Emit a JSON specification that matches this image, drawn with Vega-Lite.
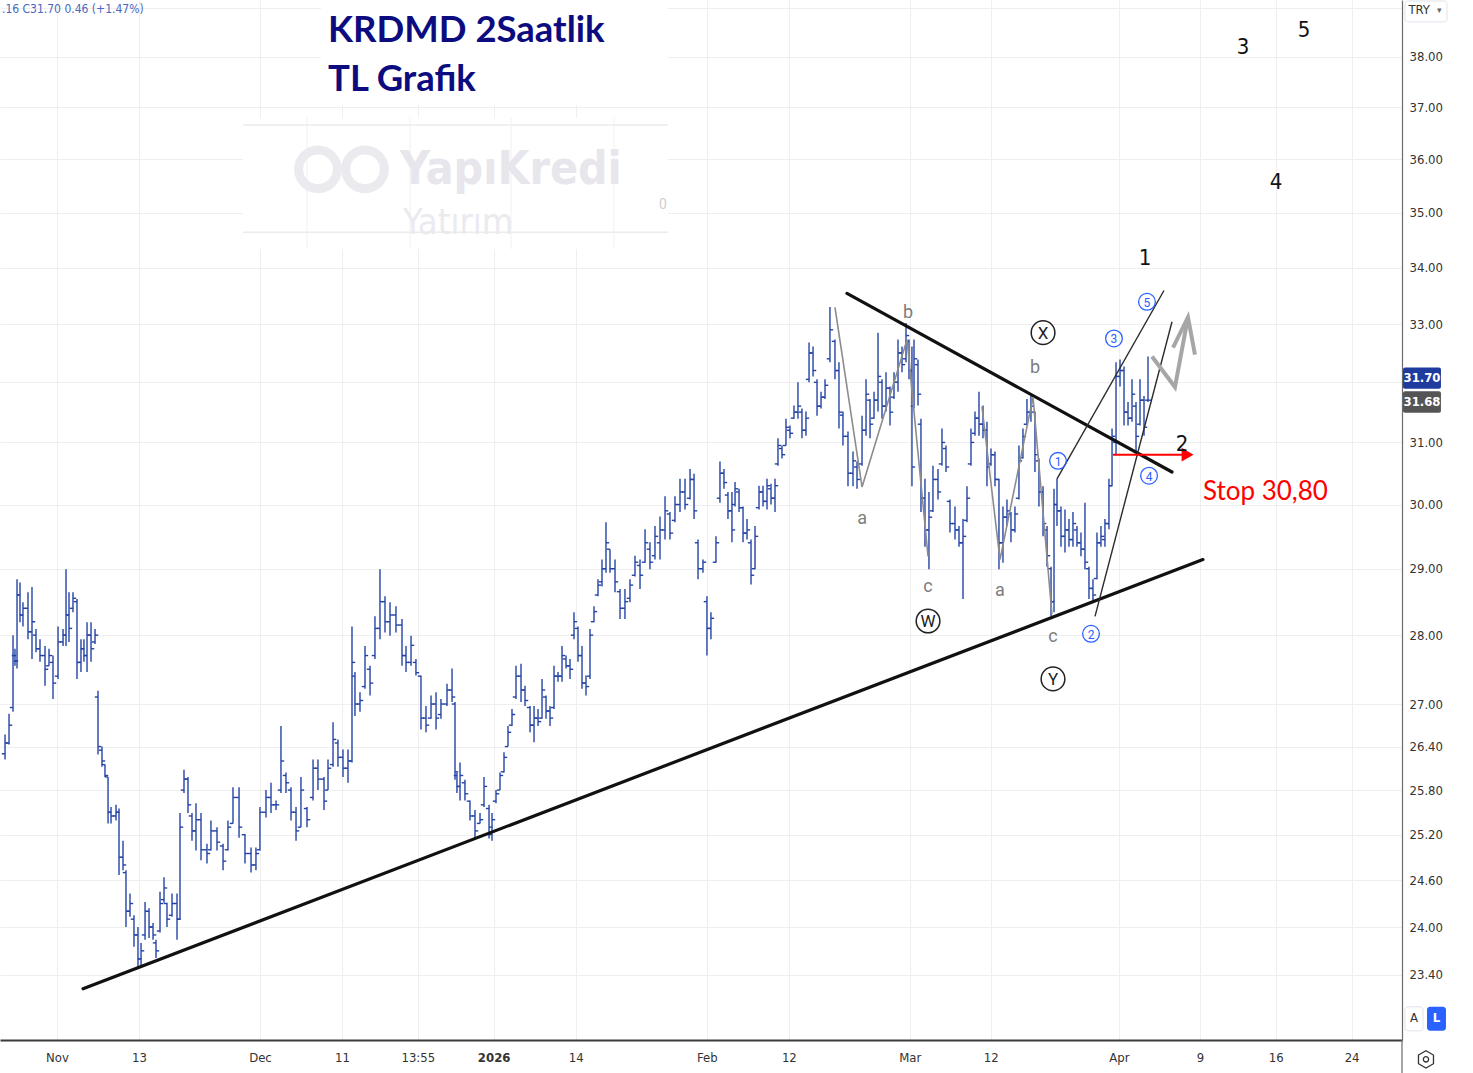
{
  "$schema": "https://vega.github.io/schema/vega-lite/v6.json",
  "width": 1402,
  "height": 1040,
  "autosize": {"type": "none"},
  "padding": {"left": 0, "top": 0, "right": 71, "bottom": 33},
  "background": "white",
  "config": {"view": {"stroke": null}},
  "encoding": {
    "x": {"field": "d", "type": "quantitative", "title": null,
      "scale": {"domain": [-5.561, 131.22], "nice": false, "zero": false},
      "axis": {"orient": "bottom", "title": null, "values": [0, 8, 19.8, 27.8, 35.2, 42.6, 50.6, 63.4, 71.4, 83.2, 91.1, 103.6, 111.5, 118.9, 126.3],
        "labelExpr": "['Nov','13','Dec','11','13:55','2026','14','Feb','12','Mar','12','Apr','9','16','24'][indexof([0, 8, 19.8, 27.8, 35.2, 42.6, 50.6, 63.4, 71.4, 83.2, 91.1, 103.6, 111.5, 118.9, 126.3], datum.value)]",
        "grid": true, "gridColor": "#efefef", "gridWidth": 1, "ticks": false, "domain": true, "domainColor": "#3a3a3a", "domainWidth": 2,
        "labelPadding": 11, "labelFont": "DejaVu Sans Condensed, Roboto", "labelFontSize": 13, "labelColor": "#333333", "labelOverlap": false, "labelFlush": false,
        "labelFontWeight": {"condition": {"test": "datum.value == 42.6", "value": "bold"}, "value": "normal"}}},
    "y": {"field": "p", "type": "quantitative", "title": null,
      "scale": {"type": "log", "domain": [22.61, 39.16], "nice": false, "zero": false},
      "axis": {"orient": "right", "title": null, "values": [23.4, 24, 24.6, 25.2, 25.8, 26.4, 27, 28, 29, 30, 31, 32, 33, 34, 35, 36, 37, 38, 39],
        "labelExpr": "(datum.value == 32 || datum.value == 39) ? '' : format(datum.value, '.2f')",
        "grid": true, "gridColor": "#efefef", "gridWidth": 1, "ticks": false, "domain": true, "domainColor": "#6b6b6b", "domainWidth": 1.2,
        "labelPadding": 7, "labelFont": "DejaVu Sans Condensed, Roboto", "labelFontSize": 13, "labelColor": "#333333", "labelAlign": "left", "labelBaseline": "middle",
        "labelOverlap": false, "labelFlush": false, "labelBound": false}}
  },
  "layer": [
    {
      "data": {"values": [
        {"d": 25.76, "d2": 59.61, "p": 39.16, "p2": 37.05},
        {"d": 18.15, "d2": 59.61, "p": 36.80, "p2": 34.33}
      ]},
      "mark": {"type": "rect", "fill": "white", "stroke": null},
      "encoding": {"x2": {"field": "d2"}, "y2": {"field": "p2"}}
    },
    {
      "data": {"values": [
        {"d": 18.15, "d2": 59.61, "p": 36.66},
        {"d": 18.15, "d2": 59.61, "p": 34.64}
      ]},
      "mark": {"type": "rule", "color": "#ebebeb", "strokeWidth": 1.5},
      "encoding": {"x2": {"field": "d2"}}
    },
    {
      "data": {"values": [
        {"d": 24.39, "p": 36.80, "p2": 34.33},
        {"d": 34.44, "p": 36.80, "p2": 34.33},
        {"d": 44.29, "p": 36.80, "p2": 34.33},
        {"d": 54.34, "p": 36.80, "p2": 34.33}
      ]},
      "mark": {"type": "rule", "color": "#f0f0f0", "strokeWidth": 1},
      "encoding": {"y2": {"field": "p2"}}
    },
    {
      "data": {"values": [
        {"d": 25.46, "p": 35.81},
        {"d": 30.05, "p": 35.81}
      ]},
      "mark": {"type": "point", "shape": "circle", "filled": false, "size": 1500, "stroke": "#ebebef", "strokeWidth": 9, "opacity": 1}
    },
    {
      "data": {"values": [{"d": 33.46, "p": 35.80, "t": "YapıKredi"}]},
      "mark": {"type": "text", "align": "left", "baseline": "middle", "font": "DejaVu Sans Condensed, Roboto", "fontSize": 46, "fontWeight": "bold", "color": "#e6e6ec"},
      "encoding": {"text": {"field": "t"}}
    },
    {
      "data": {"values": [{"d": 33.76, "p": 34.80, "t": "Yatırım"}]},
      "mark": {"type": "text", "align": "left", "baseline": "middle", "font": "DejaVu Sans Condensed, Roboto", "fontSize": 36, "color": "#eaeaef"},
      "encoding": {"text": {"field": "t"}}
    },
    {
      "data": {"name": "ohlc"},
      "mark": {"type": "rule", "color": "#2443a6", "strokeWidth": 1.4},
      "encoding": {
        "y": {"field": "l", "type": "quantitative", "title": null, "scale": {"type": "log", "domain": [22.61, 39.16], "nice": false, "zero": false}},
        "y2": {"field": "h"}
      }
    },
    {
      "data": {"name": "ohlc"},
      "mark": {"type": "tick", "orient": "horizontal", "size": 3.2, "thickness": 1.4, "xOffset": -1.6, "color": "#2443a6", "opacity": 1},
      "encoding": {
        "y": {"field": "o", "type": "quantitative", "title": null, "scale": {"type": "log", "domain": [22.61, 39.16], "nice": false, "zero": false}}
      }
    },
    {
      "data": {"name": "ohlc"},
      "mark": {"type": "tick", "orient": "horizontal", "size": 3.2, "thickness": 1.4, "xOffset": 1.6, "color": "#2443a6", "opacity": 1},
      "encoding": {
        "y": {"field": "c", "type": "quantitative", "title": null, "scale": {"type": "log", "domain": [22.61, 39.16], "nice": false, "zero": false}}
      }
    },
    {
      "data": {"values": [
        {"g": "low", "i": 1, "d": 2.54, "p": 23.23},
        {"g": "low", "i": 2, "d": 111.80, "p": 29.14},
        {"g": "up", "i": 1, "d": 77.07, "p": 33.54},
        {"g": "up", "i": 2, "d": 108.78, "p": 30.52}
      ]},
      "mark": {"type": "line", "color": "#111111", "strokeWidth": 3.2, "strokeCap": "round"},
      "encoding": {"detail": {"field": "g"}, "order": {"field": "i"}}
    },
    {
      "data": {"values": [
        {"g": "W", "i": 1, "d": 75.90, "p": 33.29},
        {"g": "W", "i": 2, "d": 78.54, "p": 30.28},
        {"g": "W", "i": 3, "d": 82.93, "p": 32.73},
        {"g": "W", "i": 4, "d": 84.98, "p": 29.19},
        {"g": "Y", "i": 1, "d": 90.24, "p": 31.59},
        {"g": "Y", "i": 2, "d": 92.00, "p": 29.14},
        {"g": "Y", "i": 3, "d": 95.22, "p": 31.75},
        {"g": "Y", "i": 4, "d": 97.07, "p": 28.31}
      ]},
      "mark": {"type": "line", "color": "#8c8c8c", "strokeWidth": 1.6},
      "encoding": {"detail": {"field": "g"}, "order": {"field": "i"}}
    },
    {
      "data": {"values": [
        {"g": "A", "i": 1, "d": 97.56, "p": 30.41},
        {"g": "A", "i": 2, "d": 108.00, "p": 33.59},
        {"g": "B", "i": 1, "d": 101.27, "p": 28.28},
        {"g": "B", "i": 2, "d": 108.78, "p": 33.04}
      ]},
      "mark": {"type": "line", "color": "#2b2b2b", "strokeWidth": 1.4},
      "encoding": {"detail": {"field": "g"}, "order": {"field": "i"}}
    },
    {
      "data": {"values": [
        {"g": "stem", "i": 1, "d": 106.83, "p": 32.44},
        {"g": "stem", "i": 2, "d": 109.07, "p": 31.92},
        {"g": "stem", "i": 3, "d": 110.34, "p": 33.12},
        {"g": "head", "i": 1, "d": 108.88, "p": 32.59},
        {"g": "head", "i": 2, "d": 110.34, "p": 33.12},
        {"g": "head", "i": 3, "d": 111.02, "p": 32.47}
      ]},
      "mark": {"type": "line", "color": "#a6a6a6", "strokeWidth": 4, "strokeJoin": "miter"},
      "encoding": {"detail": {"field": "g"}, "order": {"field": "i"}}
    },
    {
      "data": {"values": [
        {"i": 1, "d": 103.02, "p": 30.80},
        {"i": 2, "d": 109.85, "p": 30.80}
      ]},
      "mark": {"type": "line", "color": "#ff0000", "strokeWidth": 2},
      "encoding": {"order": {"field": "i"}}
    },
    {
      "data": {"values": [{"d": 110.30, "p": 30.80}]},
      "mark": {"type": "point", "shape": "triangle-right", "filled": true, "size": 190, "color": "#ff0000", "opacity": 1}
    },
    {
      "data": {"values": [
        {"d": 78.54, "p": 29.77, "t": "a"},
        {"d": 83.02, "p": 33.20, "t": "b"},
        {"d": 84.98, "p": 28.72, "t": "c"},
        {"d": 92.00, "p": 28.66, "t": "a"},
        {"d": 95.41, "p": 32.25, "t": "b"},
        {"d": 97.17, "p": 27.97, "t": "c"}
      ]},
      "mark": {"type": "text", "align": "center", "baseline": "middle", "font": "Roboto", "fontSize": 18, "color": "#7d7d7d"},
      "encoding": {"text": {"field": "t"}}
    },
    {
      "data": {"values": [
        {"d": 84.98, "p": 28.21, "t": "W"},
        {"d": 96.20, "p": 32.85, "t": "X"},
        {"d": 97.17, "p": 27.36, "t": "Y"}
      ]},
      "layer": [
        {"mark": {"type": "point", "shape": "circle", "filled": false, "size": 560, "stroke": "#222222", "strokeWidth": 1.5, "opacity": 1}},
        {
          "mark": {"type": "text", "align": "center", "baseline": "middle", "font": "Roboto", "fontSize": 17, "color": "#222222", "dy": 1},
          "encoding": {"text": {"field": "t"}}
        }
      ]
    },
    {
      "data": {"values": [
        {"d": 97.66, "p": 30.70, "t": "1"},
        {"d": 100.88, "p": 28.02, "t": "2"},
        {"d": 103.12, "p": 32.75, "t": "3"},
        {"d": 106.54, "p": 30.46, "t": "4"},
        {"d": 106.34, "p": 33.39, "t": "5"}
      ]},
      "layer": [
        {"mark": {"type": "point", "shape": "circle", "filled": false, "size": 280, "stroke": "#2962ff", "strokeWidth": 1.3, "opacity": 1}},
        {
          "mark": {"type": "text", "align": "center", "baseline": "middle", "font": "Roboto", "fontSize": 12, "color": "#2962ff", "dy": 1},
          "encoding": {"text": {"field": "t"}}
        }
      ]
    },
    {
      "data": {"values": [
        {"d": 106.15, "p": 34.18, "t": "1"},
        {"d": 109.76, "p": 30.98, "t": "2"},
        {"d": 115.71, "p": 38.20, "t": "3"},
        {"d": 118.93, "p": 35.57, "t": "4"},
        {"d": 121.66, "p": 38.55, "t": "5"}
      ]},
      "mark": {"type": "text", "align": "center", "baseline": "middle", "font": "DejaVu Sans Condensed, Roboto", "fontSize": 22, "color": "#111111"},
      "encoding": {"text": {"field": "t"}}
    },
    {
      "data": {"values": [
        {"d": 26.44, "p": 38.52, "t": "KRDMD 2Saatlik"},
        {"d": 26.44, "p": 37.54, "t": "TL Grafik"}
      ]},
      "mark": {"type": "text", "align": "left", "baseline": "middle", "font": "Lato", "fontSize": 36.5, "fontWeight": "bold", "color": "#0c0c80"},
      "encoding": {"text": {"field": "t"}}
    },
    {
      "data": {"values": [{"d": 111.80, "p": 30.20, "t": "Stop 30,80"}]},
      "mark": {"type": "text", "align": "left", "baseline": "middle", "font": "Lato", "fontSize": 26, "color": "#ff0000"},
      "encoding": {"text": {"field": "t"}}
    },
    {
      "data": {"values": [{"d": -5.37, "p": 38.98, "t": ".16  C31.70  0.46 (+1.47%)"}]},
      "mark": {"type": "text", "align": "left", "baseline": "middle", "font": "DejaVu Sans Condensed, Roboto", "fontSize": 12, "color": "#4a68c0"},
      "encoding": {"text": {"field": "t"}}
    },
    {
      "data": {"values": [{"d": 59.12, "p": 35.15, "t": "0"}]},
      "mark": {"type": "text", "align": "center", "baseline": "middle", "font": "Roboto", "fontSize": 14, "color": "#d0d0d0"},
      "encoding": {"text": {"field": "t"}}
    },
    {
      "data": {"values": [{"d": 131.22, "p": 22.61, "p2": 22.22}]},
      "mark": {"type": "rule", "color": "#6b6b6b", "strokeWidth": 1.2},
      "encoding": {"y2": {"field": "p2"}}
    },
    {
      "data": {"values": [
        {"k": "try", "d": 131.51, "d2": 135.61, "p": 39.14, "p2": 38.71},
        {"k": "a", "d": 131.51, "d2": 133.27, "p": 23.01, "p2": 22.72}
      ]},
      "mark": {"type": "rect", "fill": "white", "stroke": "#e0e3eb", "strokeWidth": 1, "cornerRadius": 3},
      "encoding": {"x2": {"field": "d2"}, "y2": {"field": "p2"}}
    },
    {
      "data": {"values": [{"d": 133.66, "d2": 135.51, "p": 23.01, "p2": 22.72}]},
      "mark": {"type": "rect", "fill": "#2962ff", "cornerRadius": 3},
      "encoding": {"x2": {"field": "d2"}, "y2": {"field": "p2"}}
    },
    {
      "data": {"values": [{"d": 131.32, "d2": 135.02, "p": 32.25, "p2": 31.89}]},
      "mark": {"type": "rect", "fill": "#1f3b9e", "cornerRadius": 2},
      "encoding": {"x2": {"field": "d2"}, "y2": {"field": "p2"}}
    },
    {
      "data": {"values": [{"d": 131.32, "d2": 135.02, "p": 31.85, "p2": 31.49}]},
      "mark": {"type": "rect", "fill": "#555555", "cornerRadius": 2},
      "encoding": {"x2": {"field": "d2"}, "y2": {"field": "p2"}}
    },
    {
      "data": {"values": [
        {"d": 133.17, "p": 32.07, "t": "31.70"},
        {"d": 133.17, "p": 31.67, "t": "31.68"},
        {"d": 134.59, "p": 22.87, "t": "L"}
      ]},
      "mark": {"type": "text", "align": "center", "baseline": "middle", "font": "DejaVu Sans Condensed, Roboto", "fontSize": 13, "fontWeight": "bold", "color": "white"},
      "encoding": {"text": {"field": "t"}}
    },
    {
      "data": {"values": [
        {"d": 132.39, "p": 22.87, "t": "A"},
        {"d": 132.90, "p": 38.95, "t": "TRY"}
      ]},
      "mark": {"type": "text", "align": "center", "baseline": "middle", "font": "DejaVu Sans Condensed, Roboto", "fontSize": 13, "color": "#333333"},
      "encoding": {"text": {"field": "t"}}
    },
    {
      "data": {"values": [{"d": 134.85, "p": 38.95, "t": "▾"}]},
      "mark": {"type": "text", "align": "center", "baseline": "middle", "font": "DejaVu Sans", "fontSize": 9, "color": "#666666"},
      "encoding": {"text": {"field": "t"}}
    },
    {
      "data": {"values": [{"d": 133.56, "p": 22.38}]},
      "layer": [
        {"mark": {"type": "point", "shape": "M0,-1L0.866,-0.5L0.866,0.5L0,1L-0.866,0.5L-0.866,-0.5Z", "filled": false, "size": 300, "stroke": "#333333", "strokeWidth": 1.3, "opacity": 1}},
        {"mark": {"type": "point", "shape": "circle", "filled": false, "size": 28, "stroke": "#333333", "strokeWidth": 1.3, "opacity": 1}}
      ]
    }
  ],
  "datasets": {
    "ohlc": [
      {"d": -5.07, "o": 26.30, "h": 26.57, "l": 26.22, "c": 26.45},
      {"d": -4.68, "o": 26.45, "h": 26.86, "l": 26.43, "c": 26.70},
      {"d": -4.29, "o": 26.95, "h": 28.00, "l": 26.89, "c": 27.70},
      {"d": -4.10, "o": 27.70, "h": 27.80, "l": 27.55, "c": 27.62},
      {"d": -3.90, "o": 27.62, "h": 28.84, "l": 27.51, "c": 28.60},
      {"d": -3.61, "o": 28.60, "h": 28.79, "l": 28.19, "c": 28.30},
      {"d": -3.32, "o": 28.30, "h": 28.49, "l": 28.13, "c": 28.40},
      {"d": -2.83, "o": 28.40, "h": 28.64, "l": 27.94, "c": 28.05},
      {"d": -2.44, "o": 28.05, "h": 28.72, "l": 27.65, "c": 28.20},
      {"d": -2.05, "o": 28.00, "h": 28.09, "l": 27.75, "c": 27.80},
      {"d": -1.66, "o": 27.80, "h": 27.94, "l": 27.61, "c": 27.70},
      {"d": -1.17, "o": 27.70, "h": 27.84, "l": 27.26, "c": 27.50},
      {"d": -0.78, "o": 27.55, "h": 27.80, "l": 27.55, "c": 27.70},
      {"d": -0.39, "o": 27.60, "h": 27.70, "l": 27.07, "c": 27.30},
      {"d": 0.10, "o": 27.40, "h": 28.13, "l": 27.36, "c": 27.90},
      {"d": 0.59, "o": 27.90, "h": 28.09, "l": 27.84, "c": 28.00},
      {"d": 0.88, "o": 28.00, "h": 28.99, "l": 27.84, "c": 28.30},
      {"d": 1.17, "o": 28.30, "h": 28.64, "l": 27.90, "c": 28.10},
      {"d": 1.56, "o": 28.40, "h": 28.64, "l": 28.34, "c": 28.55},
      {"d": 1.95, "o": 28.50, "h": 28.54, "l": 27.36, "c": 27.60},
      {"d": 2.34, "o": 27.60, "h": 27.94, "l": 27.46, "c": 27.80},
      {"d": 2.63, "o": 27.80, "h": 27.94, "l": 27.61, "c": 27.70},
      {"d": 2.93, "o": 27.70, "h": 28.19, "l": 27.46, "c": 28.00},
      {"d": 3.32, "o": 28.00, "h": 28.19, "l": 27.61, "c": 27.80},
      {"d": 3.71, "o": 27.90, "h": 28.09, "l": 27.87, "c": 28.00},
      {"d": 4.00, "o": 27.10, "h": 27.19, "l": 26.29, "c": 26.40},
      {"d": 4.39, "o": 26.35, "h": 26.40, "l": 26.12, "c": 26.20},
      {"d": 4.68, "o": 26.15, "h": 26.15, "l": 25.98, "c": 26.00},
      {"d": 4.98, "o": 25.98, "h": 25.98, "l": 25.35, "c": 25.50},
      {"d": 5.27, "o": 25.50, "h": 25.57, "l": 25.35, "c": 25.45},
      {"d": 5.76, "o": 25.45, "h": 25.60, "l": 25.39, "c": 25.50},
      {"d": 6.05, "o": 25.50, "h": 25.55, "l": 24.67, "c": 24.90},
      {"d": 6.44, "o": 24.90, "h": 25.12, "l": 24.73, "c": 24.80},
      {"d": 6.73, "o": 24.70, "h": 24.73, "l": 24.00, "c": 24.20},
      {"d": 7.12, "o": 24.20, "h": 24.43, "l": 24.13, "c": 24.30},
      {"d": 7.51, "o": 24.10, "h": 24.15, "l": 23.75, "c": 23.90},
      {"d": 7.90, "o": 23.90, "h": 24.00, "l": 23.50, "c": 23.60},
      {"d": 8.20, "o": 23.60, "h": 23.80, "l": 23.50, "c": 23.70},
      {"d": 8.59, "o": 23.90, "h": 24.32, "l": 23.84, "c": 24.20},
      {"d": 8.98, "o": 24.20, "h": 24.24, "l": 23.86, "c": 24.00},
      {"d": 9.37, "o": 24.00, "h": 24.05, "l": 23.84, "c": 23.90},
      {"d": 9.66, "o": 23.80, "h": 23.84, "l": 23.61, "c": 23.70},
      {"d": 10.05, "o": 23.95, "h": 24.45, "l": 23.93, "c": 24.30},
      {"d": 10.44, "o": 24.35, "h": 24.64, "l": 24.31, "c": 24.50},
      {"d": 10.73, "o": 24.30, "h": 24.31, "l": 24.00, "c": 24.10},
      {"d": 11.22, "o": 24.15, "h": 24.43, "l": 24.13, "c": 24.30},
      {"d": 11.71, "o": 24.30, "h": 24.43, "l": 23.84, "c": 24.10},
      {"d": 12.00, "o": 24.10, "h": 25.49, "l": 24.09, "c": 25.30},
      {"d": 12.39, "o": 25.80, "h": 26.08, "l": 25.76, "c": 25.95},
      {"d": 12.78, "o": 25.95, "h": 25.98, "l": 25.49, "c": 25.60},
      {"d": 13.17, "o": 25.45, "h": 25.49, "l": 25.12, "c": 25.25},
      {"d": 13.56, "o": 25.25, "h": 25.62, "l": 24.99, "c": 25.40},
      {"d": 14.05, "o": 25.40, "h": 25.49, "l": 24.86, "c": 25.00},
      {"d": 14.63, "o": 25.00, "h": 25.08, "l": 24.82, "c": 24.95},
      {"d": 15.02, "o": 25.00, "h": 25.39, "l": 24.99, "c": 25.25},
      {"d": 15.61, "o": 25.25, "h": 25.30, "l": 24.99, "c": 25.10},
      {"d": 16.20, "o": 25.05, "h": 25.08, "l": 24.73, "c": 24.85},
      {"d": 16.68, "o": 25.00, "h": 25.39, "l": 24.99, "c": 25.30},
      {"d": 17.17, "o": 25.35, "h": 25.84, "l": 25.35, "c": 25.70},
      {"d": 17.76, "o": 25.70, "h": 25.84, "l": 25.16, "c": 25.30},
      {"d": 18.34, "o": 25.20, "h": 25.21, "l": 24.82, "c": 24.95},
      {"d": 18.93, "o": 24.95, "h": 25.03, "l": 24.70, "c": 24.80},
      {"d": 19.41, "o": 24.80, "h": 25.03, "l": 24.73, "c": 24.95},
      {"d": 19.80, "o": 25.00, "h": 25.57, "l": 24.99, "c": 25.50},
      {"d": 20.39, "o": 25.50, "h": 25.80, "l": 25.43, "c": 25.70},
      {"d": 20.88, "o": 25.70, "h": 25.90, "l": 25.49, "c": 25.60},
      {"d": 21.37, "o": 25.60, "h": 25.66, "l": 25.53, "c": 25.60},
      {"d": 21.85, "o": 25.80, "h": 26.69, "l": 25.76, "c": 26.20},
      {"d": 22.34, "o": 26.00, "h": 26.04, "l": 25.76, "c": 25.90},
      {"d": 22.83, "o": 25.80, "h": 25.84, "l": 25.39, "c": 25.50},
      {"d": 23.32, "o": 25.50, "h": 25.57, "l": 25.12, "c": 25.25},
      {"d": 23.80, "o": 25.30, "h": 25.98, "l": 25.30, "c": 25.80},
      {"d": 24.39, "o": 25.55, "h": 25.57, "l": 25.30, "c": 25.40},
      {"d": 24.98, "o": 25.70, "h": 26.22, "l": 25.66, "c": 26.10},
      {"d": 25.46, "o": 26.10, "h": 26.22, "l": 25.80, "c": 25.95},
      {"d": 26.05, "o": 25.95, "h": 25.98, "l": 25.53, "c": 25.65},
      {"d": 26.44, "o": 25.80, "h": 26.22, "l": 25.80, "c": 26.10},
      {"d": 26.93, "o": 26.15, "h": 26.74, "l": 26.12, "c": 26.50},
      {"d": 27.41, "o": 26.45, "h": 26.50, "l": 26.12, "c": 26.25},
      {"d": 27.90, "o": 26.25, "h": 26.36, "l": 25.98, "c": 26.10},
      {"d": 28.39, "o": 26.10, "h": 26.36, "l": 25.90, "c": 26.20},
      {"d": 28.78, "o": 26.20, "h": 28.13, "l": 26.18, "c": 27.60},
      {"d": 29.07, "o": 27.40, "h": 27.46, "l": 26.83, "c": 27.00},
      {"d": 29.56, "o": 27.00, "h": 27.17, "l": 26.89, "c": 27.05},
      {"d": 30.05, "o": 27.25, "h": 27.84, "l": 27.22, "c": 27.70},
      {"d": 30.54, "o": 27.50, "h": 27.55, "l": 27.12, "c": 27.30},
      {"d": 31.02, "o": 27.70, "h": 28.28, "l": 27.65, "c": 28.10},
      {"d": 31.51, "o": 28.10, "h": 28.99, "l": 27.94, "c": 28.50},
      {"d": 32.00, "o": 28.50, "h": 28.58, "l": 28.04, "c": 28.20},
      {"d": 32.49, "o": 28.20, "h": 28.49, "l": 27.99, "c": 28.30},
      {"d": 33.07, "o": 28.30, "h": 28.43, "l": 28.04, "c": 28.15},
      {"d": 33.66, "o": 28.15, "h": 28.24, "l": 27.55, "c": 27.70},
      {"d": 34.05, "o": 27.70, "h": 27.84, "l": 27.46, "c": 27.60},
      {"d": 34.54, "o": 27.60, "h": 27.99, "l": 27.55, "c": 27.85},
      {"d": 35.02, "o": 27.60, "h": 27.65, "l": 27.41, "c": 27.45},
      {"d": 35.51, "o": 27.40, "h": 27.41, "l": 26.64, "c": 26.80},
      {"d": 36.00, "o": 26.80, "h": 26.97, "l": 26.60, "c": 26.70},
      {"d": 36.49, "o": 26.80, "h": 27.12, "l": 26.79, "c": 27.00},
      {"d": 36.98, "o": 27.00, "h": 27.17, "l": 26.64, "c": 26.80},
      {"d": 37.46, "o": 26.85, "h": 27.07, "l": 26.79, "c": 27.00},
      {"d": 38.05, "o": 27.00, "h": 27.29, "l": 26.97, "c": 27.20},
      {"d": 38.54, "o": 27.20, "h": 27.51, "l": 27.03, "c": 27.10},
      {"d": 38.83, "o": 27.00, "h": 27.03, "l": 25.94, "c": 26.05},
      {"d": 39.02, "o": 26.00, "h": 26.04, "l": 25.76, "c": 25.85},
      {"d": 39.32, "o": 25.85, "h": 26.18, "l": 25.66, "c": 26.00},
      {"d": 39.80, "o": 25.90, "h": 25.94, "l": 25.66, "c": 25.75},
      {"d": 40.29, "o": 25.65, "h": 25.66, "l": 25.39, "c": 25.45},
      {"d": 40.78, "o": 25.45, "h": 25.53, "l": 25.15, "c": 25.25},
      {"d": 41.27, "o": 25.35, "h": 25.49, "l": 25.35, "c": 25.40},
      {"d": 41.66, "o": 25.60, "h": 25.98, "l": 25.57, "c": 25.85},
      {"d": 42.15, "o": 25.55, "h": 25.60, "l": 25.15, "c": 25.30},
      {"d": 42.44, "o": 25.20, "h": 25.49, "l": 25.12, "c": 25.40},
      {"d": 42.83, "o": 25.65, "h": 25.80, "l": 25.62, "c": 25.75},
      {"d": 43.22, "o": 25.80, "h": 26.04, "l": 25.80, "c": 26.00},
      {"d": 43.61, "o": 26.05, "h": 26.32, "l": 26.04, "c": 26.25},
      {"d": 44.00, "o": 26.40, "h": 26.69, "l": 26.40, "c": 26.60},
      {"d": 44.39, "o": 26.70, "h": 26.93, "l": 26.69, "c": 26.85},
      {"d": 44.78, "o": 27.10, "h": 27.55, "l": 27.07, "c": 27.40},
      {"d": 45.27, "o": 27.40, "h": 27.58, "l": 27.03, "c": 27.20},
      {"d": 45.66, "o": 27.20, "h": 27.26, "l": 26.97, "c": 27.05},
      {"d": 46.15, "o": 26.95, "h": 26.97, "l": 26.60, "c": 26.70},
      {"d": 46.54, "o": 26.70, "h": 26.97, "l": 26.46, "c": 26.80},
      {"d": 46.93, "o": 26.80, "h": 26.93, "l": 26.69, "c": 26.75},
      {"d": 47.32, "o": 26.80, "h": 27.36, "l": 26.79, "c": 27.20},
      {"d": 47.71, "o": 27.10, "h": 27.12, "l": 26.79, "c": 26.90},
      {"d": 48.10, "o": 26.90, "h": 26.97, "l": 26.69, "c": 26.80},
      {"d": 48.49, "o": 26.95, "h": 27.55, "l": 26.93, "c": 27.40},
      {"d": 48.88, "o": 27.40, "h": 27.46, "l": 27.32, "c": 27.40},
      {"d": 49.27, "o": 27.40, "h": 27.84, "l": 27.32, "c": 27.70},
      {"d": 49.66, "o": 27.65, "h": 27.70, "l": 27.51, "c": 27.55},
      {"d": 50.05, "o": 27.55, "h": 27.65, "l": 27.36, "c": 27.50},
      {"d": 50.44, "o": 28.00, "h": 28.34, "l": 27.94, "c": 28.20},
      {"d": 50.83, "o": 28.10, "h": 28.13, "l": 27.61, "c": 27.70},
      {"d": 51.22, "o": 27.70, "h": 27.84, "l": 27.22, "c": 27.30},
      {"d": 51.61, "o": 27.30, "h": 27.41, "l": 27.12, "c": 27.25},
      {"d": 52.00, "o": 27.40, "h": 28.09, "l": 27.36, "c": 28.00},
      {"d": 52.39, "o": 28.20, "h": 28.43, "l": 28.19, "c": 28.35},
      {"d": 52.78, "o": 28.60, "h": 28.84, "l": 28.58, "c": 28.75},
      {"d": 53.17, "o": 28.80, "h": 29.14, "l": 28.73, "c": 29.00},
      {"d": 53.56, "o": 29.00, "h": 29.72, "l": 28.94, "c": 29.40},
      {"d": 53.95, "o": 29.30, "h": 29.30, "l": 28.94, "c": 29.00},
      {"d": 54.44, "o": 29.00, "h": 29.14, "l": 28.64, "c": 28.80},
      {"d": 54.93, "o": 28.65, "h": 28.69, "l": 28.24, "c": 28.40},
      {"d": 55.41, "o": 28.40, "h": 28.69, "l": 28.24, "c": 28.50},
      {"d": 55.90, "o": 28.55, "h": 28.84, "l": 28.49, "c": 28.75},
      {"d": 56.39, "o": 28.90, "h": 29.20, "l": 28.88, "c": 29.10},
      {"d": 56.88, "o": 29.05, "h": 29.14, "l": 28.69, "c": 28.90},
      {"d": 57.37, "o": 29.10, "h": 29.61, "l": 29.09, "c": 29.40},
      {"d": 57.85, "o": 29.30, "h": 29.41, "l": 28.99, "c": 29.10},
      {"d": 58.34, "o": 29.20, "h": 29.66, "l": 29.14, "c": 29.50},
      {"d": 58.83, "o": 29.40, "h": 29.81, "l": 29.14, "c": 29.60},
      {"d": 59.32, "o": 29.60, "h": 30.13, "l": 29.45, "c": 29.90},
      {"d": 59.80, "o": 29.85, "h": 29.88, "l": 29.45, "c": 29.55},
      {"d": 60.29, "o": 29.75, "h": 30.13, "l": 29.72, "c": 30.00},
      {"d": 60.78, "o": 30.00, "h": 30.41, "l": 29.88, "c": 30.20},
      {"d": 61.27, "o": 30.20, "h": 30.41, "l": 29.92, "c": 30.00},
      {"d": 61.76, "o": 30.10, "h": 30.57, "l": 30.08, "c": 30.40},
      {"d": 62.15, "o": 30.40, "h": 30.49, "l": 29.77, "c": 29.90},
      {"d": 62.54, "o": 29.40, "h": 29.45, "l": 28.84, "c": 29.00},
      {"d": 63.02, "o": 29.00, "h": 29.14, "l": 28.94, "c": 29.10},
      {"d": 63.41, "o": 28.50, "h": 28.58, "l": 27.70, "c": 28.10},
      {"d": 63.80, "o": 28.10, "h": 28.34, "l": 27.94, "c": 28.25},
      {"d": 64.29, "o": 29.10, "h": 29.50, "l": 29.09, "c": 29.40},
      {"d": 64.68, "o": 30.10, "h": 30.69, "l": 30.03, "c": 30.50},
      {"d": 65.07, "o": 30.50, "h": 30.57, "l": 30.25, "c": 30.35},
      {"d": 65.46, "o": 30.15, "h": 30.20, "l": 29.77, "c": 29.90},
      {"d": 65.85, "o": 29.90, "h": 30.20, "l": 29.41, "c": 29.60},
      {"d": 66.15, "o": 30.00, "h": 30.36, "l": 29.97, "c": 30.25},
      {"d": 66.54, "o": 30.20, "h": 30.25, "l": 29.88, "c": 29.95},
      {"d": 66.93, "o": 29.95, "h": 29.97, "l": 29.41, "c": 29.55},
      {"d": 67.32, "o": 29.55, "h": 29.77, "l": 29.45, "c": 29.60},
      {"d": 67.71, "o": 29.40, "h": 29.45, "l": 28.76, "c": 28.90},
      {"d": 68.10, "o": 29.00, "h": 29.66, "l": 28.99, "c": 29.50},
      {"d": 68.49, "o": 29.95, "h": 30.30, "l": 29.92, "c": 30.20},
      {"d": 68.88, "o": 30.20, "h": 30.30, "l": 29.97, "c": 30.05},
      {"d": 69.27, "o": 30.05, "h": 30.41, "l": 29.92, "c": 30.30},
      {"d": 69.66, "o": 30.25, "h": 30.33, "l": 30.00, "c": 30.10},
      {"d": 70.05, "o": 30.10, "h": 30.41, "l": 29.88, "c": 30.30},
      {"d": 70.34, "o": 30.65, "h": 31.07, "l": 30.62, "c": 30.95},
      {"d": 70.73, "o": 30.90, "h": 30.95, "l": 30.74, "c": 30.80},
      {"d": 71.12, "o": 30.95, "h": 31.39, "l": 30.95, "c": 31.25},
      {"d": 71.51, "o": 31.20, "h": 31.28, "l": 31.07, "c": 31.15},
      {"d": 71.90, "o": 31.40, "h": 31.61, "l": 31.39, "c": 31.50},
      {"d": 72.29, "o": 31.50, "h": 32.00, "l": 31.39, "c": 31.60},
      {"d": 72.68, "o": 31.50, "h": 31.56, "l": 31.07, "c": 31.20},
      {"d": 73.07, "o": 31.20, "h": 31.51, "l": 31.11, "c": 31.40},
      {"d": 73.37, "o": 32.05, "h": 32.68, "l": 32.00, "c": 32.50},
      {"d": 73.76, "o": 32.50, "h": 32.61, "l": 32.10, "c": 32.20},
      {"d": 74.15, "o": 32.00, "h": 32.05, "l": 31.44, "c": 31.60},
      {"d": 74.54, "o": 31.60, "h": 31.84, "l": 31.56, "c": 31.75},
      {"d": 74.93, "o": 31.75, "h": 32.05, "l": 31.72, "c": 31.95},
      {"d": 75.41, "o": 32.40, "h": 33.30, "l": 32.34, "c": 32.90},
      {"d": 75.90, "o": 32.70, "h": 32.73, "l": 32.05, "c": 32.20},
      {"d": 76.29, "o": 32.20, "h": 32.34, "l": 31.23, "c": 31.50},
      {"d": 76.68, "o": 31.45, "h": 31.51, "l": 30.95, "c": 31.10},
      {"d": 77.17, "o": 31.10, "h": 31.18, "l": 30.29, "c": 30.50},
      {"d": 77.66, "o": 30.50, "h": 30.85, "l": 30.29, "c": 30.70},
      {"d": 78.05, "o": 30.60, "h": 30.69, "l": 30.25, "c": 30.40},
      {"d": 78.54, "o": 30.65, "h": 31.44, "l": 30.62, "c": 31.20},
      {"d": 78.93, "o": 31.20, "h": 32.05, "l": 31.11, "c": 31.80},
      {"d": 79.32, "o": 31.70, "h": 31.72, "l": 31.07, "c": 31.30},
      {"d": 79.71, "o": 31.40, "h": 31.84, "l": 31.39, "c": 31.70},
      {"d": 80.10, "o": 31.70, "h": 32.85, "l": 31.51, "c": 32.10},
      {"d": 80.49, "o": 32.00, "h": 32.05, "l": 31.39, "c": 31.60},
      {"d": 80.88, "o": 31.60, "h": 32.17, "l": 31.51, "c": 31.90},
      {"d": 81.27, "o": 31.90, "h": 31.93, "l": 31.28, "c": 31.50},
      {"d": 81.66, "o": 31.75, "h": 32.17, "l": 31.72, "c": 32.00},
      {"d": 82.05, "o": 32.00, "h": 32.73, "l": 31.84, "c": 32.50},
      {"d": 82.44, "o": 32.50, "h": 32.61, "l": 32.17, "c": 32.30},
      {"d": 82.83, "o": 32.40, "h": 33.02, "l": 32.34, "c": 32.80},
      {"d": 83.12, "o": 32.70, "h": 32.73, "l": 32.05, "c": 32.20},
      {"d": 83.41, "o": 32.20, "h": 32.61, "l": 30.29, "c": 30.60},
      {"d": 83.61, "o": 31.60, "h": 32.73, "l": 31.56, "c": 32.40},
      {"d": 84.00, "o": 32.30, "h": 32.39, "l": 31.61, "c": 31.80},
      {"d": 84.29, "o": 31.30, "h": 31.39, "l": 29.88, "c": 30.10},
      {"d": 84.68, "o": 30.10, "h": 30.41, "l": 29.34, "c": 29.60},
      {"d": 85.07, "o": 29.60, "h": 30.20, "l": 28.99, "c": 29.80},
      {"d": 85.46, "o": 29.90, "h": 30.62, "l": 29.88, "c": 30.40},
      {"d": 85.95, "o": 30.40, "h": 30.57, "l": 30.08, "c": 30.20},
      {"d": 86.34, "o": 30.65, "h": 31.23, "l": 30.62, "c": 31.00},
      {"d": 86.73, "o": 30.90, "h": 30.95, "l": 30.52, "c": 30.60},
      {"d": 87.12, "o": 30.05, "h": 30.08, "l": 29.56, "c": 29.70},
      {"d": 87.61, "o": 29.70, "h": 29.97, "l": 29.45, "c": 29.60},
      {"d": 88.00, "o": 29.60, "h": 29.66, "l": 29.34, "c": 29.40},
      {"d": 88.39, "o": 29.40, "h": 29.77, "l": 28.54, "c": 29.50},
      {"d": 88.78, "o": 29.75, "h": 30.29, "l": 29.72, "c": 30.10},
      {"d": 89.17, "o": 30.65, "h": 31.23, "l": 30.62, "c": 31.00},
      {"d": 89.56, "o": 31.15, "h": 31.51, "l": 31.11, "c": 31.40},
      {"d": 89.95, "o": 31.40, "h": 31.84, "l": 31.11, "c": 31.30},
      {"d": 90.34, "o": 31.30, "h": 31.61, "l": 31.07, "c": 31.20},
      {"d": 90.73, "o": 31.20, "h": 31.34, "l": 30.29, "c": 30.60},
      {"d": 91.12, "o": 30.65, "h": 30.90, "l": 30.62, "c": 30.80},
      {"d": 91.51, "o": 30.80, "h": 30.85, "l": 30.29, "c": 30.40},
      {"d": 91.90, "o": 30.40, "h": 30.41, "l": 28.99, "c": 29.40},
      {"d": 92.29, "o": 29.40, "h": 29.97, "l": 29.09, "c": 29.80},
      {"d": 92.68, "o": 29.80, "h": 30.08, "l": 29.66, "c": 29.90},
      {"d": 93.07, "o": 29.85, "h": 29.88, "l": 29.41, "c": 29.60},
      {"d": 93.46, "o": 29.60, "h": 29.97, "l": 29.56, "c": 29.85},
      {"d": 93.85, "o": 30.10, "h": 30.95, "l": 30.08, "c": 30.70},
      {"d": 94.24, "o": 30.75, "h": 31.23, "l": 30.74, "c": 31.10},
      {"d": 94.63, "o": 31.30, "h": 31.72, "l": 31.28, "c": 31.50},
      {"d": 95.02, "o": 31.50, "h": 31.77, "l": 31.34, "c": 31.60},
      {"d": 95.41, "o": 31.50, "h": 31.51, "l": 30.52, "c": 30.80},
      {"d": 95.80, "o": 30.70, "h": 30.74, "l": 29.97, "c": 30.20},
      {"d": 96.20, "o": 30.20, "h": 30.29, "l": 29.50, "c": 29.70},
      {"d": 96.59, "o": 29.60, "h": 29.66, "l": 29.03, "c": 29.20},
      {"d": 96.98, "o": 29.00, "h": 29.03, "l": 28.28, "c": 28.50},
      {"d": 97.27, "o": 28.50, "h": 30.25, "l": 28.34, "c": 30.00},
      {"d": 97.56, "o": 30.00, "h": 30.41, "l": 29.66, "c": 29.90},
      {"d": 97.95, "o": 29.90, "h": 29.97, "l": 29.34, "c": 29.50},
      {"d": 98.34, "o": 29.50, "h": 29.92, "l": 29.25, "c": 29.60},
      {"d": 98.73, "o": 29.60, "h": 29.77, "l": 29.34, "c": 29.45},
      {"d": 99.12, "o": 29.45, "h": 29.88, "l": 29.34, "c": 29.70},
      {"d": 99.51, "o": 29.60, "h": 29.66, "l": 29.34, "c": 29.40},
      {"d": 99.90, "o": 29.40, "h": 29.56, "l": 29.19, "c": 29.30},
      {"d": 100.29, "o": 29.30, "h": 30.03, "l": 28.99, "c": 29.10},
      {"d": 100.68, "o": 29.00, "h": 29.03, "l": 28.54, "c": 28.70},
      {"d": 101.07, "o": 28.70, "h": 28.84, "l": 28.49, "c": 28.60},
      {"d": 101.46, "o": 28.85, "h": 29.56, "l": 28.84, "c": 29.40},
      {"d": 101.85, "o": 29.40, "h": 29.66, "l": 29.34, "c": 29.50},
      {"d": 102.24, "o": 29.45, "h": 29.77, "l": 29.34, "c": 29.70},
      {"d": 102.63, "o": 29.70, "h": 30.41, "l": 29.61, "c": 30.30},
      {"d": 102.93, "o": 30.30, "h": 31.23, "l": 30.29, "c": 31.10},
      {"d": 103.32, "o": 31.00, "h": 32.34, "l": 30.79, "c": 32.10},
      {"d": 103.71, "o": 32.10, "h": 32.39, "l": 31.93, "c": 32.20},
      {"d": 104.10, "o": 32.20, "h": 32.27, "l": 31.28, "c": 31.50},
      {"d": 104.49, "o": 31.50, "h": 31.67, "l": 31.28, "c": 31.40},
      {"d": 104.88, "o": 31.40, "h": 32.05, "l": 31.34, "c": 31.80},
      {"d": 105.27, "o": 31.60, "h": 31.67, "l": 30.85, "c": 31.10},
      {"d": 105.66, "o": 31.30, "h": 32.05, "l": 31.28, "c": 31.70},
      {"d": 106.05, "o": 31.70, "h": 31.77, "l": 31.11, "c": 31.25},
      {"d": 106.44, "o": 31.70, "h": 32.44, "l": 31.67, "c": 31.70}
    ]
  }
}
